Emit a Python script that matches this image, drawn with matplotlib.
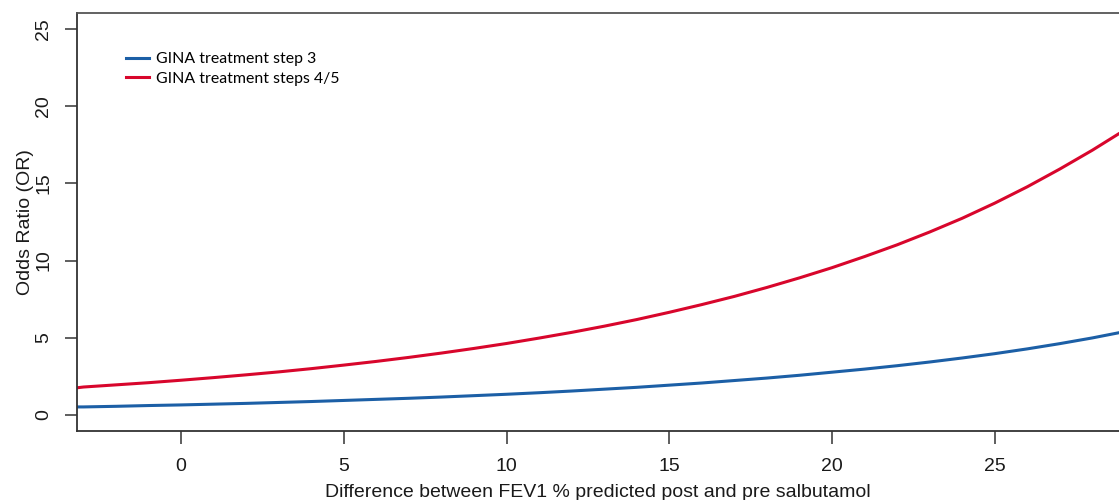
"""Odds ratio vs FEV1 reversibility by GINA treatment step."""

import matplotlib

matplotlib.use("Agg")
import matplotlib.pyplot as plt

# difference between FEV1 % predicted post and pre salbutamol
fev1_diff = [-3.2, -3, -2, -1, 0, 1, 2, 3, 4, 5, 6, 7, 8, 9, 10, 11, 12, 13, 14,
             15, 16, 17, 18, 19, 20, 21, 22, 23, 24, 25, 26, 27, 28, 28.8]

or_step3 = [0.52, 0.52, 0.56, 0.61, 0.65, 0.70, 0.75, 0.81, 0.87, 0.94, 1.01, 1.08,
            1.16, 1.25, 1.34, 1.44, 1.55, 1.67, 1.79, 1.93, 2.07, 2.23, 2.39, 2.57,
            2.77, 2.97, 3.19, 3.43, 3.69, 3.97, 4.28, 4.62, 4.99, 5.32]

or_step45 = [1.76, 1.81, 1.95, 2.09, 2.25, 2.42, 2.60, 2.79, 3.00, 3.23, 3.47, 3.73,
             4.01, 4.31, 4.63, 4.98, 5.35, 5.75, 6.18, 6.65, 7.15, 7.68, 8.26, 8.88,
             9.54, 10.26, 11.02, 11.85, 12.74, 13.72, 14.78, 15.93, 17.15, 18.2]

series_labels = ["GINA treatment step 3", "GINA treatment steps 4/5"]
x_ticks = [0, 5, 10, 15, 20, 25]
y_ticks = [0, 5, 10, 15, 20, 25]

BLUE = "#1c5fa6"
RED = "#d8062c"
AXIS = "#333333"


def main() -> None:
    plt.rcParams["font.family"] = ["Liberation Sans", "DejaVu Sans"]
    fig = plt.figure(figsize=(11.19, 5.0), dpi=100)
    ax = fig.add_axes([0.0691, 0.1386, 0.9309, 0.8348])

    ax.plot(fev1_diff, or_step3, color=BLUE, linewidth=2.2, label=series_labels[0])
    ax.plot(fev1_diff, or_step45, color=RED, linewidth=2.2, label=series_labels[1])

    ax.set_xlim(-3.19, 28.82)
    ax.set_ylim(-1.02, 26.02)
    ax.set_xticks(x_ticks)
    ax.set_yticks(y_ticks)
    ax.set_yticklabels([str(v) for v in y_ticks], rotation=90, va="center")

    for side in ("left", "bottom", "top"):
        ax.spines[side].set_color(AXIS)
        ax.spines[side].set_linewidth(1.3)
    ax.spines["top"].set_color("#555555")
    ax.spines["right"].set_visible(False)

    ax.tick_params(axis="both", direction="out", length=9, width=1.1, color=AXIS,
                   labelsize=14, labelcolor="#1a1a1a", pad=11)
    ax.tick_params(axis="y", pad=9)

    ax.set_xlabel("Difference between FEV1 % predicted post and pre salbutamol",
                  fontsize=14, color="#1a1a1a", labelpad=6)
    ax.set_ylabel("Odds Ratio (OR)", fontsize=14, color="#1a1a1a", labelpad=1)

    ax.legend(loc="upper left", bbox_to_anchor=(0.0468, 0.907), frameon=False,
              borderpad=0, borderaxespad=0, handlelength=1.45, handletextpad=0.45,
              labelspacing=0.35, prop={"family": "Lato", "size": 11.4})

    fig.savefig("out.png", dpi=100)
    plt.close(fig)


if __name__ == "__main__":
    main()
